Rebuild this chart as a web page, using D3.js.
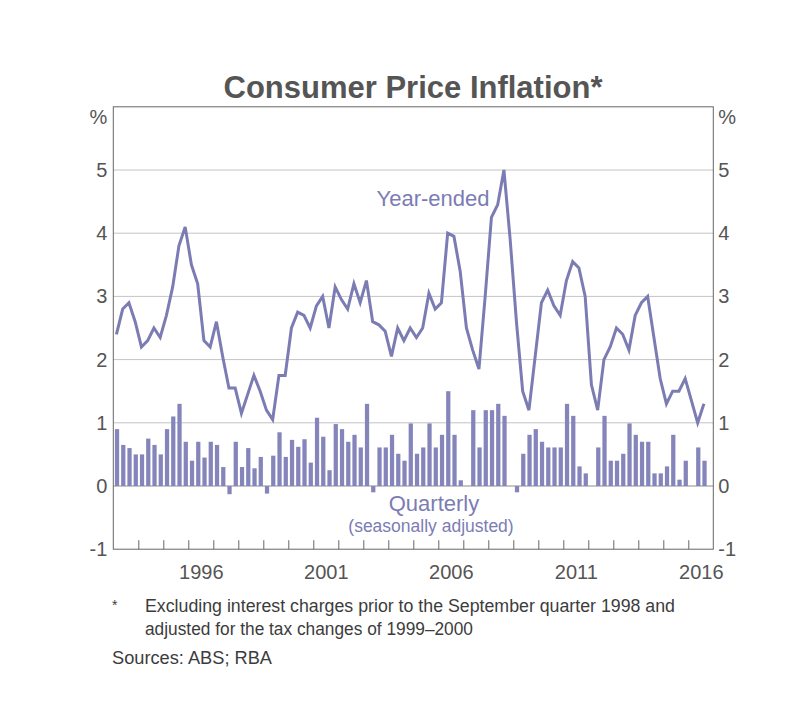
<!DOCTYPE html>
<html>
<head>
<meta charset="utf-8">
<script src="https://cdn.jsdelivr.net/npm/d3@7"></script>
<style>
  body { margin: 0; background: #fff; }
  text { font-family: 'Liberation Sans', Arial, sans-serif; }
</style>
</head>
<body>
<div id="area"></div>
<script>
// quarters, Mar-1993 .. Sep-2016
const years = [1993,1994,1995,1996,1997,1998,1999,2000,2001,2002,2003,2004,
               2005,2006,2007,2008,2009,2010,2011,2012,2013,2014,2015,2016]
const quarters = ['Mar','Jun','Sep','Dec']
const yearLabels = [1996,2001,2006,2011,2016]
const yTicks = [-1,0,1,2,3,4,5]

// year-ended inflation, %
const yearEnded = [
  2.4, 2.8, 2.9, 2.6,
  2.2, 2.3, 2.5, 2.35,
  2.7, 3.15, 3.8, 4.1,
  3.5, 3.2, 2.3, 2.2,
  2.6, 2.05, 1.55, 1.55,
  1.15, 1.45, 1.75, 1.5,
  1.2, 1.05, 1.75, 1.75,
  2.5, 2.75, 2.7, 2.5,
  2.85, 3.0, 2.5, 3.15,
  2.95, 2.8, 3.2, 2.9,
  3.25, 2.6, 2.55, 2.45,
  2.05, 2.5, 2.3, 2.5,
  2.35, 2.5, 3.05, 2.8,
  2.9, 4.0, 3.95, 3.4,
  2.5, 2.15, 1.85, 3.0,
  4.25, 4.45, 5.0, 3.9,
  2.6, 1.5, 1.2, 2.05,
  2.9, 3.1, 2.85, 2.7,
  3.25, 3.55, 3.45, 3.0,
  1.6, 1.2, 2.0, 2.2,
  2.5, 2.4, 2.15, 2.7,
  2.9, 3.0, 2.35, 1.7,
  1.3, 1.5, 1.5, 1.7,
  1.35, 1.0, 1.3
]

// quarterly inflation (seasonally adjusted), %
const quarterly = [
  0.9, 0.65, 0.6, 0.5,
  0.5, 0.75, 0.65, 0.5,
  0.9, 1.1, 1.3, 0.7,
  0.4, 0.7, 0.45, 0.7,
  0.65, 0.3, -0.13, 0.7,
  0.3, 0.6, 0.28, 0.46,
  -0.12, 0.48, 0.85, 0.46,
  0.73, 0.62, 0.74, 0.37,
  1.08, 0.78, 0.25, 0.98,
  0.9, 0.7, 0.81, 0.61,
  1.3, -0.1, 0.61, 0.61,
  0.81, 0.51, 0.4, 0.99,
  0.51, 0.61, 0.99, 0.61,
  0.81, 1.5, 0.81, 0.09,
  0, 1.2, 0.61, 1.2,
  1.2, 1.3, 1.11, 0,
  -0.1, 0.51, 0.81, 0.9,
  0.7, 0.61, 0.61, 0.61,
  1.3, 1.11, 0.31, 0.2,
  0, 0.61, 1.11, 0.4,
  0.4, 0.51, 0.99, 0.81,
  0.7, 0.7, 0.2, 0.2,
  0.31, 0.81, 0.1, 0.4,
  0, 0.61, 0.4
]

const slots = years.flatMap(y => quarters.map(q => q + '-' + y))
const data = slots.slice(0, yearEnded.length).map((q, i) => ({
  q: q, ye: yearEnded[i], qt: quarterly[i]
}))

const W = 795, H = 707
const plotL = 113.3, plotR = 713.3, plotT = 106.8, plotB = 549.2
const purple = '#7c7cb4'
const textGrey = '#555'
const font = "'Liberation Sans', Arial, sans-serif"

const svg = d3.select('#area')
              .append('svg')
              .attr('width', W)
              .attr('height', H)

const xBand = d3.scaleBand()
                .domain(slots)
                .range([plotL, plotR])
                .paddingInner(0.32)
                .paddingOuter(0.16)
const xYear = d3.scaleLinear()
                .domain([years[0], years[years.length - 1] + 1])
                .range([plotL, plotR])
const yScale = d3.scaleLinear()
                .domain([-1, 6])
                .range([plotB, plotT])

// gridlines
svg.selectAll('.grid')
    .data(yTicks.filter(d => d >= 0))
    .enter()
    .append('line')
    .attr('class', 'grid')
    .attr('x1', plotL)
    .attr('x2', plotR)
    .attr('y1', d => yScale(d))
    .attr('y2', d => yScale(d))
    .attr('stroke', d => d === 0 ? '#8c8c8c' : '#c4c4c4')
    .attr('stroke-width', 1)

// quarterly bars
svg.selectAll('rect.bar')
    .data(data.filter(d => d.qt !== 0))
    .enter()
    .append('rect')
    .attr('class', 'bar')
    .attr('x', d => xBand(d.q) + 0.6)
    .attr('width', xBand.bandwidth())
    .attr('y', d => yScale(Math.max(0, d.qt)))
    .attr('height', d => Math.abs(yScale(d.qt) - yScale(0)))
    .attr('fill', '#8585bb')

// year-ended line
const line = d3.line()
               .x(d => xBand(d.q) + xBand.bandwidth() / 2)
               .y(d => yScale(d.ye))
svg.append('path')
    .datum(data)
    .attr('d', line)
    .attr('fill', 'none')
    .attr('stroke', purple)
    .attr('stroke-width', 3)
    .attr('stroke-linejoin', 'miter')

// frame
svg.append('rect')
    .attr('x', plotL)
    .attr('y', plotT)
    .attr('width', plotR - plotL)
    .attr('height', plotB - plotT)
    .attr('fill', 'none')
    .attr('stroke', '#666')
    .attr('stroke-width', 1)

// year boundary ticks
const tickAxis = d3.axisBottom(xYear)
                   .tickValues(years.slice(1))
                   .tickSize(-9)
                   .tickFormat('')
svg.append('g')
    .attr('transform', `translate(0,${plotB})`)
    .call(tickAxis)
    .call(g => g.select('.domain').remove())
    .call(g => g.selectAll('line').attr('stroke', '#666'))

// year labels, centred within the year
const labelAxis = d3.axisBottom(xYear)
                    .tickValues(yearLabels.map(y => y + 0.5))
                    .tickSize(0)
                    .tickPadding(16)
                    .tickFormat(d => Math.floor(d))
svg.append('g')
    .attr('transform', `translate(0,${plotB})`)
    .call(labelAxis)
    .call(g => g.select('.domain').remove())
    .call(g => g.selectAll('text')
                .attr('font-size', 20)
                .attr('fill', textGrey)
                .attr('font-family', font))

// y axes both sides
const yLeft = d3.axisLeft(yScale).tickValues(yTicks).tickSize(0).tickPadding(6)
                .tickFormat(d => String(d))
const yRight = d3.axisRight(yScale).tickValues(yTicks).tickSize(0).tickPadding(5)
                 .tickFormat(d => String(d))
;[[yLeft, plotL], [yRight, plotR]].forEach(([ax, x]) => {
  svg.append('g')
      .attr('transform', `translate(${x},0)`)
      .call(ax)
      .call(g => g.select('.domain').remove())
      .call(g => g.selectAll('text')
                  .attr('font-size', 20)
                  .attr('fill', textGrey)
                  .attr('font-family', font))
})

// unit labels
svg.append('text').attr('x', plotL - 6).attr('y', 124)
    .attr('text-anchor', 'end').attr('font-size', 20).attr('fill', textGrey).text('%')
svg.append('text').attr('x', plotR + 5).attr('y', 124)
    .attr('text-anchor', 'start').attr('font-size', 20).attr('fill', textGrey).text('%')

// title
svg.append('text')
    .attr('x', 413)
    .attr('y', 98)
    .attr('text-anchor', 'middle')
    .attr('font-size', 31)
    .attr('font-weight', 'bold')
    .attr('fill', textGrey)
    .text('Consumer Price Inflation*')

// series labels
svg.append('text').attr('x', 433).attr('y', 206).attr('text-anchor', 'middle')
    .attr('font-size', 22).attr('fill', purple).text('Year-ended')
svg.append('text').attr('x', 434).attr('y', 511).attr('text-anchor', 'middle')
    .attr('font-size', 22).attr('fill', purple).text('Quarterly')
svg.append('text').attr('x', 431).attr('y', 532).attr('text-anchor', 'middle')
    .attr('font-size', 17.5).attr('fill', purple).text('(seasonally adjusted)')

// notes
const noteGrey = '#3c3c3c'
svg.append('text').attr('x', 112).attr('y', 610)
    .attr('font-size', 14).attr('fill', noteGrey).text('*')
svg.append('text').attr('x', 145).attr('y', 612)
    .attr('font-size', 17.5).attr('fill', noteGrey)
    .attr('textLength', 530).attr('lengthAdjust', 'spacingAndGlyphs')
    .text('Excluding interest charges prior to the September quarter 1998 and')
svg.append('text').attr('x', 145).attr('y', 635)
    .attr('font-size', 17.5).attr('fill', noteGrey)
    .attr('textLength', 328).attr('lengthAdjust', 'spacingAndGlyphs')
    .text('adjusted for the tax changes of 1999–2000')
svg.append('text').attr('x', 112).attr('y', 664)
    .attr('font-size', 17.5).attr('fill', noteGrey)
    .attr('textLength', 160).attr('lengthAdjust', 'spacingAndGlyphs')
    .text('Sources:  ABS; RBA')
</script>
</body>
</html>
